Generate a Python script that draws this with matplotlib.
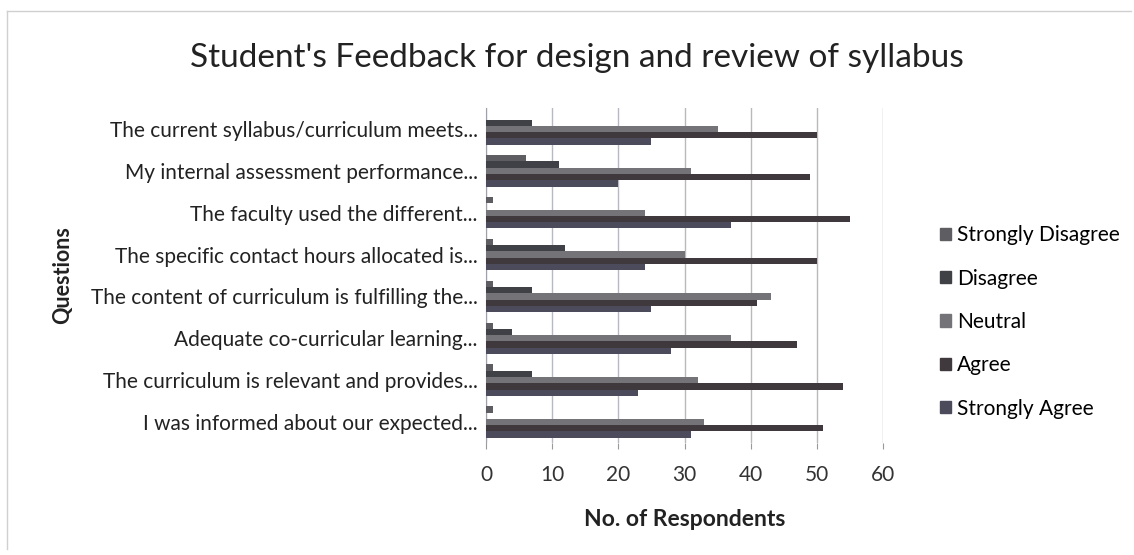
import numpy as np
from matplotlib import pyplot as plt
from matplotlib.lines import Line2D

questions = [
    "The current syllabus/curriculum meets...",
    "My internal assessment performance...",
    "The faculty used the different...",
    "The specific contact hours allocated is...",
    "The content of curriculum is fulfilling the...",
    "Adequate co-curricular learning...",
    "The curriculum is relevant and provides...",
    "I was informed about our expected...",
]
series = ["Strongly Disagree", "Disagree", "Neutral", "Agree", "Strongly Agree"]

strongly_disagree = [0, 6, 1, 1, 1, 1, 1, 1]
disagree = [7, 11, 0, 12, 7, 4, 7, 0]
neutral = [35, 31, 24, 30, 43, 37, 32, 33]
agree = [50, 49, 55, 50, 41, 47, 54, 51]
strongly_agree = [25, 20, 37, 24, 25, 28, 23, 31]

values = [strongly_disagree, disagree, neutral, agree, strongly_agree]
colors = ["#5e5e62", "#404047", "#747478", "#3f393d", "#4b4b5c"]

plt.rcParams['font.family'] = ['Lato', 'DejaVu Sans']

fig = plt.figure(figsize=(11.34, 5.55), dpi=100)
ax = fig.add_axes([0.4286, 0.2018, 0.3501, 0.6036])

y = np.arange(len(questions))
h = 0.15
for j, (name, vals) in enumerate(zip(series, values)):
    ax.barh(y + (j - 2) * h, vals, height=h, color=colors[j], label=name, zorder=3)

ax.set_ylim(len(questions) - 0.5, -0.5)
ax.set_xlim(0, 60)
ax.set_xticks(range(0, 61, 10))
ax.set_yticks(y)
ax.set_yticklabels(questions, fontsize=15, color="#222222")
ax.tick_params(axis='x', labelsize=15, labelcolor="#333333", length=4, color="#999999", pad=12)
ax.tick_params(axis='y', length=0, pad=6)
ax.grid(axis='x', color="#b8b8c0", linewidth=1, zorder=0)
for s in ["top", "right", "bottom"]:
    ax.spines[s].set_visible(False)
ax.spines["left"].set_color("#a0a0a8")

ax.set_xlabel("No. of Respondents", fontsize=16.5, fontweight='bold', color="#222222", labelpad=17)
fig.text(0.055, 0.504, "Questions", rotation=90, fontsize=15.5, fontweight='bold',
         color="#222222", ha='center', va='center')

fig.text(0.509, 0.896, "Student's Feedback for design and review of syllabus",
         fontsize=24, color="#222222", ha='center', va='center')

handles = [plt.Rectangle((0, 0), 1, 1, color=c) for c in colors]
fig.legend(handles, series, loc='center left', bbox_to_anchor=(0.812, 0.42),
           frameon=False, fontsize=15, handlelength=0.55, handleheight=0.55,
           handletextpad=0.3, labelspacing=1.12)

# faint chart-area border (top and left only visible in the scan)
fig.add_artist(Line2D([0.006, 0.006], [0.01, 0.98], color="#d0d0d0", linewidth=1))
fig.add_artist(Line2D([0.006, 0.997], [0.98, 0.98], color="#d0d0d0", linewidth=1))

fig.savefig("out.png", dpi=100)
